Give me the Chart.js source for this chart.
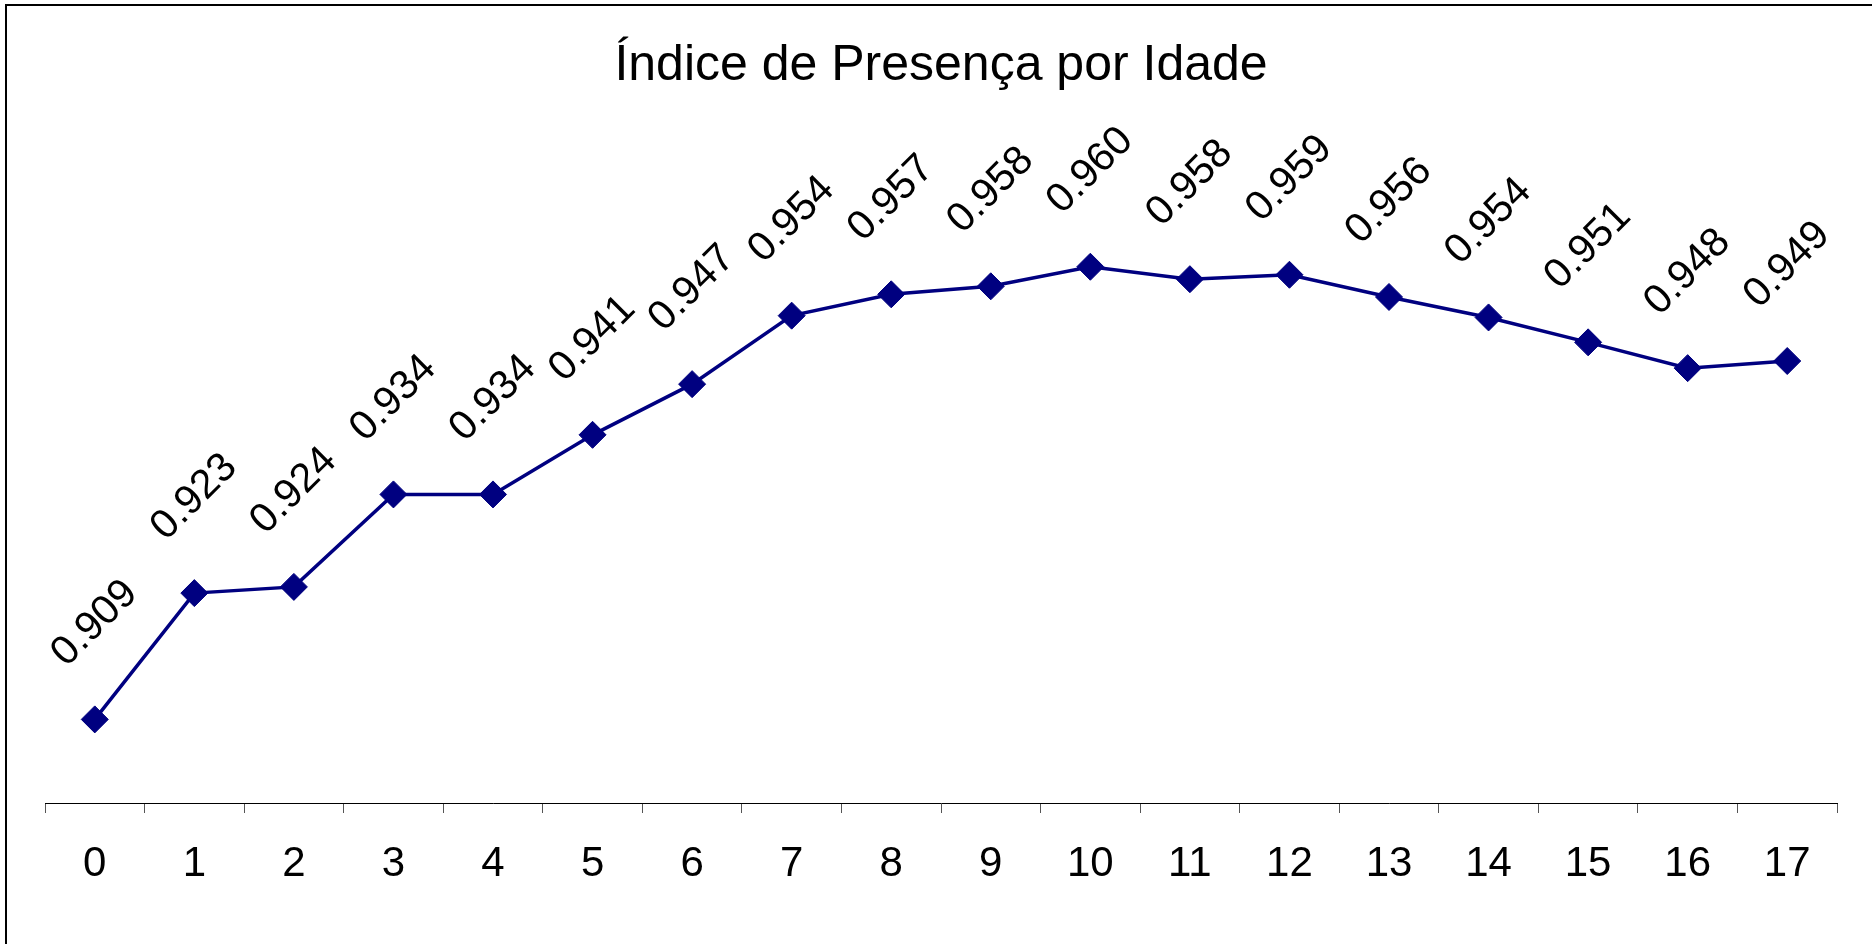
<!DOCTYPE html>
<html>
<head>
<meta charset="utf-8">
<script src="https://cdn.jsdelivr.net/npm/chart.js@4/dist/chart.umd.min.js"></script>
<style>
html,body{margin:0;padding:0;background:#fff;overflow:hidden}
#wrap{width:1872px;height:944px;position:relative}
</style>
</head>
<body>
<div id="wrap"><canvas id="c" width="1872" height="944"></canvas></div>
<script>
const chartTitle = 'Índice de Presença por Idade';
const ages = ['0','1','2','3','4','5','6','7','8','9','10','11','12','13','14','15','16','17'];
const presence = [0.9089,0.9231,0.9238,0.9342,0.9342,0.9409,0.9466,0.9543,0.9567,0.9576,0.9598,0.9584,0.9589,0.9564,0.9541,0.9513,0.9484,0.9492];
const yMin = 0.8995;
const yMax = 0.979;

const FONT = '"Liberation Sans", Arial, sans-serif';
const NAVY = '#000080';

const framePlugin = {
  id: 'frame',
  beforeDraw(chart) {
    const ctx = chart.ctx;
    ctx.save();
    ctx.fillStyle = '#fff';
    ctx.fillRect(0, 0, chart.width, chart.height);
    ctx.fillStyle = '#000';
    ctx.fillRect(5, 4, chart.width - 5, 2);
    ctx.fillRect(5, 4, 2, chart.height - 4);
    ctx.restore();
  }
};

const valueLabels = {
  id: 'valueLabels',
  afterDatasetsDraw(chart) {
    const ctx = chart.ctx;
    const meta = chart.getDatasetMeta(0);
    ctx.save();
    ctx.font = '41px ' + FONT;
    ctx.fillStyle = '#000';
    ctx.textAlign = 'center';
    ctx.textBaseline = 'middle';
    meta.data.forEach((pt, i) => {
      ctx.save();
      ctx.translate(pt.x, pt.y - 96);
      ctx.rotate(-Math.PI / 4);
      ctx.fillText(presence[i].toFixed(3), 0, 0);
      ctx.restore();
    });
    ctx.restore();
  }
};

new Chart(document.getElementById('c'), {
  type: 'line',
  data: {
    labels: ages,
    datasets: [{
      data: presence,
      borderColor: NAVY,
      backgroundColor: NAVY,
      borderWidth: 3.5,
      pointStyle: 'rectRot',
      pointRadius: 13.5,
      pointBorderWidth: 1,
      pointBackgroundColor: NAVY,
      pointBorderColor: NAVY,
      tension: 0,
      fill: false,
      clip: false
    }]
  },
  options: {
    responsive: false,
    animation: false,
    devicePixelRatio: 1,
    layout: { padding: { left: 45, right: 35, top: 0, bottom: 0 } },
    plugins: {
      legend: { display: false },
      tooltip: { enabled: false },
      title: {
        display: true,
        text: chartTitle,
        color: '#000',
        font: { family: FONT, size: 50, weight: 'normal', lineHeight: 1 },
        padding: { top: 41, bottom: 5 }
      }
    },
    scales: {
      x: {
        offset: true,
        grid: {
          offset: true,
          drawOnChartArea: false,
          drawTicks: true,
          tickLength: 10,
          color: '#555',
          lineWidth: 1
        },
        border: { display: true, color: '#000', width: 1 },
        ticks: {
          color: '#000',
          font: { family: FONT, size: 42 },
          padding: 26,
          maxRotation: 0,
          autoSkip: false
        },
        afterFit(scale) { scale.height = 141; }
      },
      y: {
        display: false,
        min: yMin,
        max: yMax
      }
    }
  },
  plugins: [framePlugin, valueLabels]
});
</script>
</body>
</html>
